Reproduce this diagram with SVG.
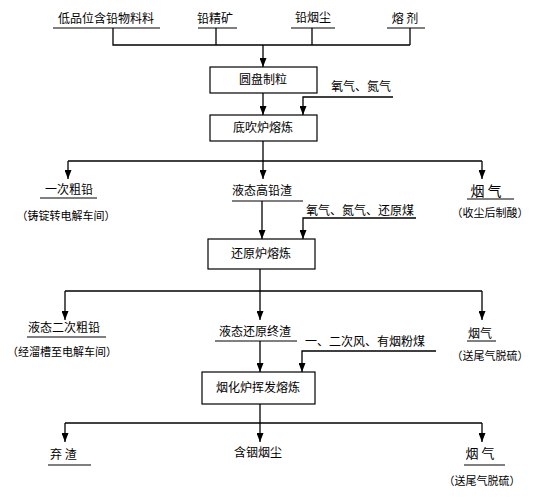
<svg xmlns="http://www.w3.org/2000/svg" width="540" height="503" viewBox="0 0 540 503">
<defs>
<marker id="ah" markerWidth="9" markerHeight="7" refX="9" refY="3.5" orient="auto" markerUnits="userSpaceOnUse">
<path d="M0,0 L9,3.5 L0,7 z" fill="#000"/>
</marker>
<style>
text{font-family:"Noto Sans CJK SC","Liberation Sans",sans-serif;font-size:12px;fill:#000}
.c{text-anchor:middle}
.s{font-size:11px}
.line{stroke:#000;stroke-width:1.3;fill:none}
.arr{stroke:#000;stroke-width:1.3;fill:none;marker-end:url(#ah)}
.box{fill:#fff;stroke:#000;stroke-width:1.2}
.ul{stroke:#000;stroke-width:1}
</style>
</defs>
<rect width="540" height="503" fill="#fff"/>

<g id="connectors">
<!-- top feed -->
<polyline class="line" points="113,28 113,45 410,45"/>
<line class="line" x1="216" y1="28" x2="216" y2="45"/>
<line class="line" x1="312" y1="28" x2="312" y2="45"/>
<line class="line" x1="410" y1="28" x2="410" y2="45"/>
<line class="arr" x1="263" y1="45" x2="263" y2="67"/>
<line class="arr" x1="263" y1="93" x2="263" y2="115"/>
<polyline class="arr" points="393,97 303,97 303,115"/>
<!-- branch 1 -->
<line class="line" x1="263" y1="141" x2="263" y2="161"/>
<line class="line" x1="68" y1="161" x2="482" y2="161"/>
<line class="arr" x1="68" y1="161" x2="68" y2="179"/>
<line class="arr" x1="263" y1="161" x2="263" y2="179"/>
<line class="arr" x1="482" y1="161" x2="482" y2="179"/>
<line class="arr" x1="262" y1="201" x2="262" y2="239"/>
<polyline class="arr" points="416,218 303,218 303,239"/>
<!-- branch 2 -->
<line class="line" x1="260" y1="269" x2="260" y2="291"/>
<line class="line" x1="65" y1="291" x2="482" y2="291"/>
<line class="arr" x1="65" y1="291" x2="65" y2="320"/>
<line class="arr" x1="260" y1="291" x2="260" y2="320"/>
<line class="arr" x1="482" y1="291" x2="482" y2="320"/>
<line class="arr" x1="260" y1="341" x2="260" y2="372"/>
<polyline class="arr" points="436,351 302,351 302,372"/>
<!-- branch 3 -->
<line class="line" x1="260" y1="404" x2="260" y2="423"/>
<line class="line" x1="65" y1="423" x2="482" y2="423"/>
<line class="arr" x1="65" y1="423" x2="65" y2="442"/>
<line class="arr" x1="260" y1="423" x2="260" y2="442"/>
<line class="arr" x1="482" y1="423" x2="482" y2="442"/>
</g>

<g id="in1"><text class="c" x="106" y="23">低品位含铅物料料</text><line class="ul" x1="53" y1="28" x2="160" y2="28"/></g>
<g id="in2"><text class="c" x="215" y="23">铅精矿</text><line class="ul" x1="198" y1="28" x2="237" y2="28"/></g>
<g id="in3"><text class="c" x="313" y="22">铅烟尘</text><line class="ul" x1="291" y1="28" x2="335" y2="28"/></g>
<g id="in4"><text class="c" x="405" y="23" xml:space="preserve">熔 剂</text><line class="ul" x1="387" y1="28" x2="425" y2="28"/></g>

<g id="box1"><rect class="box" x="210" y="67" width="107" height="26"/><text class="c" x="263" y="84">圆盘制粒</text></g>
<g id="gas1"><text class="c" x="361" y="91">氧气、氮气</text></g>
<g id="box2"><rect class="box" x="210" y="115" width="107" height="26"/><text class="c" x="263" y="132">底吹炉熔炼</text></g>

<g id="out1a"><text class="c" x="69" y="194">一次粗铅</text><line class="ul" x1="40" y1="198" x2="97" y2="198"/><text class="c s" x="66" y="220">（铸锭转电解车间）</text></g>
<g id="out1b"><text x="232" y="195">液态高铅渣</text><line class="ul" x1="232" y1="201" x2="303" y2="201"/></g>
<g id="out1c"><text class="c" x="486" y="196" style="font-size:14px" xml:space="preserve">烟 气</text><line class="ul" x1="467" y1="199" x2="514" y2="199"/><text class="c s" x="490" y="217">（收尘后制酸）</text></g>
<g id="gas2"><text x="306" y="215">氧气、氮气、还原煤</text></g>

<g id="box3"><rect class="box" x="208" y="239" width="107" height="30"/><text class="c" x="261" y="258">还原炉熔炼</text></g>

<g id="out2a"><text x="28" y="332">液态二次粗铅</text><line class="ul" x1="27" y1="337" x2="106" y2="337"/><text class="c s" x="62" y="356">（经溜槽至电解车间）</text></g>
<g id="out2b"><text x="219" y="336">液态还原终渣</text><line class="ul" x1="215" y1="341" x2="297" y2="341"/></g>
<g id="out2c"><text class="c" x="480" y="338">烟气</text><line class="ul" x1="467" y1="341" x2="496" y2="341"/><text class="c s" x="490" y="360">（送尾气脱硫）</text></g>
<g id="gas3"><text x="305" y="346">一、二次风、有烟粉煤</text></g>

<g id="box4"><rect class="box" x="202" y="372" width="113" height="32"/><text class="c" x="258" y="392">烟化炉挥发熔炼</text></g>

<g id="out3a"><text x="50" y="459" xml:space="preserve">弃 渣</text><line class="ul" x1="48" y1="465" x2="91" y2="465"/></g>
<g id="out3b"><text class="c" x="258" y="457">含铟烟尘</text></g>
<g id="out3c"><text class="c" x="480" y="458" style="font-size:13px" xml:space="preserve">烟 气</text><line class="ul" x1="464" y1="465" x2="505" y2="465"/><text class="c s" x="482" y="485">（送尾气脱硫）</text></g>
</svg>
